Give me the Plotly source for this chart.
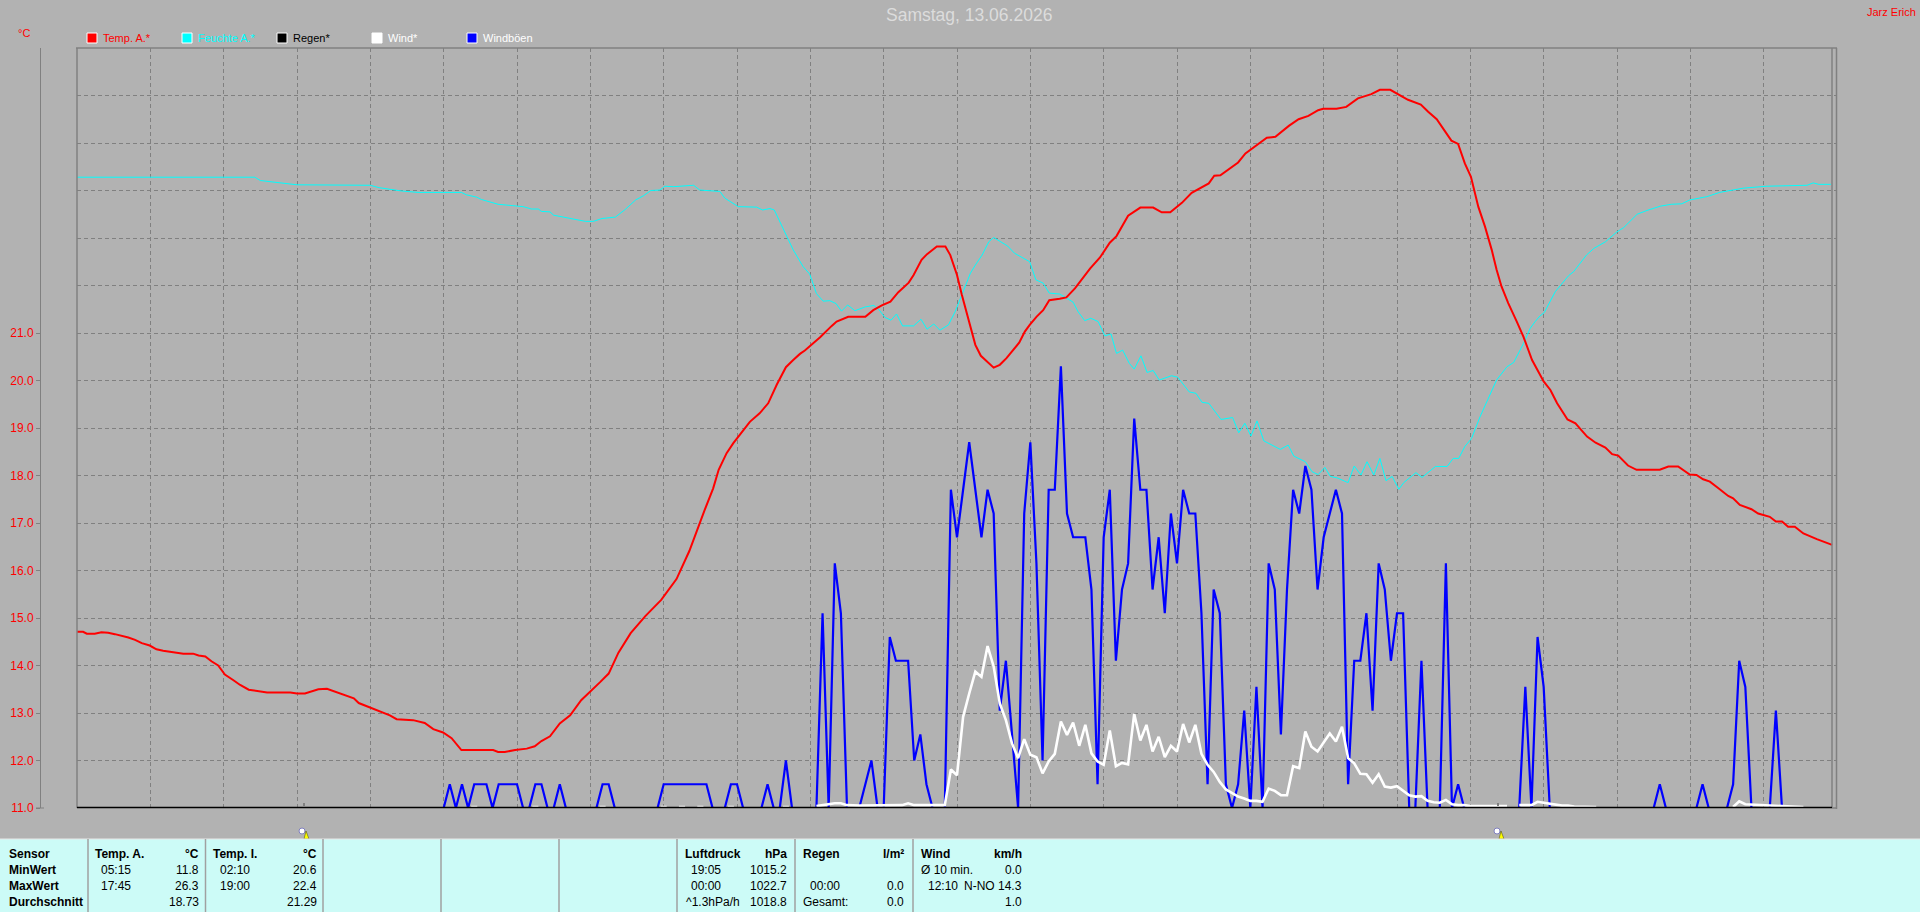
# Wetterstation Tagesgrafik, Samstag 13.06.2026
import plotly.graph_objects as go

W = 1920
H = 912

# temperatur aussen (messpunkt 0-288 = 5 min raster, wert auf der skala)
temp_x = [0.0, 1.0, 1.6, 2.9, 4.0, 5.1, 6.2, 7.3, 8.4, 9.5,
          10.6, 11.9, 13.0, 14.1, 15.8, 17.4, 19.0, 19.9, 21.0, 22.0,
          23.1, 24.2, 25.6, 26.7, 28.1, 30.0, 31.1, 34.9, 36.0, 37.3,
          38.4, 39.5, 40.9, 42.5, 43.9, 45.3, 46.1, 48.0, 49.6, 51.2,
          52.3, 55.0, 56.9, 58.3, 59.9, 61.3, 62.9, 68.1, 68.9, 70.0,
          71.7, 73.6, 74.9, 76.0, 77.4, 79.0, 80.7, 82.5, 85.6, 87.0,
          88.6, 90.6, 93.0, 95.6, 98.1, 100.2, 102.7, 104.1, 105.0, 106.3,
          107.4, 108.7, 110.1, 111.7, 113.1, 114.5, 116.0, 117.2, 118.3, 119.1,
          120.5, 121.6, 123.5, 124.3, 126.2, 129.0, 130.3, 131.7, 133.1, 134.4,
          136.1, 136.9, 138.2, 139.1, 140.7, 142.1, 142.9, 144.0, 144.8, 146.2,
          147.0, 147.9, 149.2, 150.0, 151.0, 152.1, 154.2, 155.1, 155.9, 157.0,
          158.1, 159.1, 160.8, 161.9, 163.3, 165.8, 167.4, 169.0, 170.1, 172.0,
          174.0, 176.1, 177.5, 178.9, 180.8, 182.4, 185.2, 186.1, 187.1, 190.0,
          191.2, 194.7, 196.1, 198.3, 199.9, 201.5, 203.1, 203.9, 206.1, 207.7,
          209.6, 211.8, 213.2, 214.9, 217.8, 219.9, 221.1, 222.5, 224.9, 226.0,
          227.1, 228.1, 229.3, 230.4, 231.5, 232.3, 233.1, 234.2, 235.6, 236.7,
          238.1, 240.0, 241.1, 242.2, 243.9, 245.2, 247.1, 248.5, 250.1, 251.2,
          252.2, 253.8, 255.2, 259.0, 260.4, 262.0, 263.9, 265.0, 266.1, 267.2,
          268.6, 270.2, 271.0, 272.1, 274.0, 275.1, 277.0, 278.0, 279.0, 280.0,
          281.1, 282.5, 284.7, 287.2]
temp_y = [14.71, 14.71, 14.67, 14.67, 14.70, 14.69, 14.66, 14.63, 14.59, 14.54,
          14.47, 14.42, 14.34, 14.31, 14.28, 14.25, 14.25, 14.21, 14.19, 14.09,
          14.00, 13.81, 13.69, 13.59, 13.49, 13.46, 13.43, 13.43, 13.41, 13.41,
          13.46, 13.50, 13.51, 13.44, 13.38, 13.31, 13.21, 13.11, 13.02, 12.95,
          12.87, 12.85, 12.79, 12.66, 12.59, 12.47, 12.22, 12.22, 12.18, 12.18,
          12.22, 12.25, 12.30, 12.41, 12.51, 12.78, 12.95, 13.27, 13.65, 13.83,
          14.27, 14.68, 15.04, 15.38, 15.82, 16.41, 17.27, 17.73, 18.12, 18.47,
          18.68, 18.89, 19.13, 19.31, 19.52, 19.91, 20.28, 20.43, 20.56, 20.63,
          20.78, 20.91, 21.15, 21.24, 21.34, 21.34, 21.48, 21.58, 21.66, 21.86,
          22.06, 22.22, 22.54, 22.66, 22.82, 22.82, 22.64, 22.22, 21.80, 21.13,
          20.75, 20.52, 20.36, 20.27, 20.33, 20.47, 20.80, 21.03, 21.17, 21.34,
          21.48, 21.69, 21.72, 21.75, 21.94, 22.36, 22.59, 22.90, 23.04, 23.47,
          23.64, 23.64, 23.54, 23.54, 23.74, 23.95, 24.15, 24.31, 24.32, 24.59,
          24.78, 25.11, 25.13, 25.36, 25.50, 25.57, 25.69, 25.72, 25.72, 25.76,
          25.94, 26.03, 26.12, 26.12, 25.91, 25.81, 25.66, 25.50, 25.05, 24.98,
          24.57, 24.29, 23.66, 23.24, 22.75, 22.33, 21.98, 21.63, 21.24, 20.92,
          20.43, 19.98, 19.80, 19.52, 19.18, 19.10, 18.82, 18.69, 18.59, 18.45,
          18.42, 18.21, 18.12, 18.12, 18.19, 18.19, 18.02, 18.01, 17.92, 17.87,
          17.73, 17.57, 17.52, 17.38, 17.29, 17.20, 17.13, 17.03, 17.03, 16.92,
          16.92, 16.78, 16.66, 16.54]

# feuchte aussen
feuchte_x = [0.0, 29.1, 30.0, 33.8, 36.0, 48.0, 49.4, 53.1, 55.8, 62.9,
             63.7, 65.4, 66.2, 68.9, 73.0, 74.4, 75.5, 76.0, 77.4, 78.0,
             79.1, 83.2, 84.5, 85.9, 88.1, 89.7, 91.4, 92.7, 93.9, 95.4,
             96.2, 97.6, 100.9, 101.9, 105.2, 106.0, 108.2, 111.2, 112.2, 113.4,
             114.1, 116.1, 117.2, 118.8, 119.9, 121.0, 122.1, 123.2, 124.2, 125.1,
             126.1, 127.3, 129.0, 130.4, 131.3, 132.2, 133.2, 134.1, 135.1, 136.9,
             138.1, 139.1, 140.2, 141.2, 142.6, 143.7, 144.8, 146.2, 147.0, 148.1,
             149.2, 150.0, 152.3, 153.4, 155.9, 156.9, 158.1, 159.1, 160.8, 161.9,
             163.0, 163.8, 164.9, 165.9, 167.1, 168.2, 169.2, 170.1, 171.1, 172.2,
             173.0, 174.1, 175.1, 176.1, 177.1, 179.1, 180.1, 182.0, 183.1, 184.1,
             185.2, 187.2, 189.1, 190.1, 191.1, 192.1, 193.1, 194.2, 196.9, 198.2,
             199.1, 201.0, 202.1, 203.1, 204.2, 205.1, 206.2, 208.0, 209.0, 210.1,
             211.1, 212.2, 213.2, 214.2, 215.2, 216.3, 217.1, 219.1, 220.1, 222.3,
             224.2, 225.2, 226.1, 227.1, 228.2, 229.6, 231.2, 232.3, 234.0, 235.1,
             236.7, 237.8, 238.6, 239.4, 240.1, 241.9, 244.1, 244.9, 247.0, 248.2,
             250.1, 252.0, 253.1, 255.3, 256.9, 259.1, 260.9, 262.6, 263.9, 266.7,
             268.8, 272.7, 276.5, 283.1, 284.1, 285.0, 287.0]
feuchte_y = [24.28, 24.28, 24.21, 24.16, 24.12, 24.11, 24.06, 23.99, 23.96, 23.96,
             23.91, 23.86, 23.81, 23.71, 23.66, 23.61, 23.61, 23.56, 23.55, 23.48,
             23.45, 23.35, 23.35, 23.41, 23.44, 23.60, 23.80, 23.89, 24.00, 24.01,
             24.09, 24.08, 24.11, 24.01, 23.98, 23.84, 23.66, 23.65, 23.59, 23.62,
             23.59, 23.03, 22.75, 22.40, 22.24, 21.83, 21.67, 21.68, 21.62, 21.46,
             21.59, 21.47, 21.55, 21.58, 21.48, 21.33, 21.27, 21.40, 21.15, 21.15,
             21.29, 21.08, 21.19, 21.06, 21.17, 21.45, 21.80, 22.26, 22.43, 22.64,
             22.92, 23.01, 22.83, 22.68, 22.50, 22.12, 22.05, 21.84, 21.82, 21.73,
             21.65, 21.45, 21.26, 21.31, 21.24, 20.94, 20.98, 20.57, 20.64, 20.36,
             20.24, 20.52, 20.17, 20.21, 20.01, 20.10, 20.07, 19.76, 19.73, 19.54,
             19.52, 19.18, 19.22, 18.90, 19.10, 18.83, 19.15, 18.73, 18.55, 18.64,
             18.41, 18.29, 18.08, 18.02, 18.17, 17.98, 17.95, 17.85, 18.20, 18.01,
             18.29, 18.01, 18.36, 17.89, 17.98, 17.71, 17.85, 18.06, 17.96, 18.19,
             18.19, 18.36, 18.36, 18.61, 18.78, 19.24, 19.69, 20.01, 20.29, 20.38,
             20.78, 21.10, 21.24, 21.36, 21.43, 21.87, 22.21, 22.29, 22.64, 22.78,
             22.92, 23.13, 23.22, 23.50, 23.58, 23.67, 23.71, 23.72, 23.80, 23.87,
             23.96, 24.05, 24.09, 24.11, 24.16, 24.13, 24.13]

# windboeen, ein wert pro messpunkt (12 pro stunde)
boeen = [
    11.0, 11.0, 11.0, 11.0, 11.0, 11.0, 11.0, 11.0, 11.0, 11.0, 11.0, 11.0,
    11.0, 11.0, 11.0, 11.0, 11.0, 11.0, 11.0, 11.0, 11.0, 11.0, 11.0, 11.0,
    11.0, 11.0, 11.0, 11.0, 11.0, 11.0, 11.0, 11.0, 11.0, 11.0, 11.0, 11.0,
    11.0, 11.0, 11.0, 11.0, 11.0, 11.0, 11.0, 11.0, 11.0, 11.0, 11.0, 11.0,
    11.0, 11.0, 11.0, 11.0, 11.0, 11.0, 11.0, 11.0, 11.0, 11.0, 11.0, 11.0,
    11.0, 11.5, 11.0, 11.5, 11.0, 11.5, 11.5, 11.5, 11.0, 11.5, 11.5, 11.5,
    11.5, 11.0, 11.0, 11.5, 11.5, 11.0, 11.0, 11.5, 11.0, 11.0, 11.0, 11.0,
    11.0, 11.0, 11.5, 11.5, 11.0, 11.0, 11.0, 11.0, 11.0, 11.0, 11.0, 11.0,
    11.5, 11.5, 11.5, 11.5, 11.5, 11.5, 11.5, 11.5, 11.0, 11.0, 11.0, 11.5,
    11.5, 11.0, 11.0, 11.0, 11.0, 11.5, 11.0, 11.0, 12.0, 11.0, 11.0, 11.0,
    11.0, 11.0, 15.1, 11.0, 16.15, 15.1, 11.0, 11.0, 11.0, 11.5, 12.0, 11.0,
    11.0, 14.6, 14.1, 14.1, 14.1, 12.0, 12.55, 11.5, 11.0, 11.0, 11.0, 17.7,
    16.7, 17.7, 18.7, 17.7, 16.7, 17.7, 17.2, 13.05, 14.1, 12.55, 11.0, 17.2,
    18.7, 16.15, 12.0, 17.7, 17.7, 20.3, 17.2, 16.7, 16.7, 16.7, 15.6, 11.5,
    16.7, 17.7, 14.1, 15.6, 16.15, 19.2, 17.7, 17.7, 15.6, 16.7, 15.1, 17.2,
    16.15, 17.7, 17.2, 17.2, 15.1, 11.5, 15.6, 15.1, 11.5, 11.0, 11.5, 13.05,
    11.0, 13.55, 11.0, 16.15, 15.6, 12.55, 15.6, 17.7, 17.2, 18.2, 17.7, 15.6,
    16.7, 17.2, 17.7, 17.2, 11.5, 14.1, 14.1, 15.1, 13.05, 16.15, 15.6, 14.1,
    15.1, 15.1, 11.0, 11.0, 14.1, 11.0, 11.0, 11.0, 16.15, 11.0, 11.5, 11.0,
    11.0, 11.0, 11.0, 11.0, 11.0, 11.0, 11.0, 11.0, 11.0, 13.55, 11.0, 14.6,
    13.55, 11.0, 11.0, 11.0, 11.0, 11.0, 11.0, 11.0, 11.0, 11.0, 11.0, 11.0,
    11.0, 11.0, 11.0, 11.0, 11.0, 11.0, 11.0, 11.5, 11.0, 11.0, 11.0, 11.0,
    11.0, 11.0, 11.5, 11.0, 11.0, 11.0, 11.0, 11.5, 14.1, 13.55, 11.0, 11.0,
    11.0, 11.0, 13.05, 11.0, 11.0, 11.0, 11.0, 11.0, 11.0, 11.0, 11.0, 11.0,
]

# wind, None = keine daten
wind_x = [64.5, 65.5, None, 74.5, 75.5, None, 85.5, 86.5, None, 95.5, 96.5, None,
          98.5, 99.5, None, 101.5, 102.5, None, 106.5, 107.5, None, 115.5, 116.5, None,
          121, 124, 125, 126, 128, 131, 132, 135, 136, 137, 142, 143,
          144, 145, 146, 147, 148, 149, 150, 151, 152, 153, 154, 155,
          156, 157, 158, 159, 160, 161, 162, 163, 164, 165, 166, 167,
          168, 169, 170, 171, 172, 173, 174, 175, 176, 177, 178, 179,
          180, 181, 182, 183, 184, 185, 186, 187, 188, 189, 190, 191,
          192, 193, 194, 195, 196, 197, 198, 199, 200, 201, 202, 203,
          204, 205, 206, 207, 208, 209, 210, 211, 212, 213, 214, 215,
          216, 217, 218, 219, 220, 221, 222, 223, 224, 225, 226, 227,
          228, 234, None, 236, 238, 239, 240, 241, 242, 243, 244, 245,
          248.6, None, 271, 272, 273, 275.5, 279, 282.5]
wind_y = [11.02, 11.02, None, 11.02, 11.02, None, 11.02, 11.02, None, 11.02, 11.02, None,
          11.02, 11.02, None, 11.02, 11.02, None, 11.02, 11.02, None, 11.02, 11.02, None,
          11.04, 11.10, 11.10, 11.06, 11.05, 11.05, 11.06, 11.06, 11.10, 11.06, 11.06, 11.81,
          11.69, 12.92, 13.41, 13.87, 13.76, 14.41, 13.98, 13.20, 12.85, 12.36, 12.05, 12.45,
          12.12, 12.07, 11.73, 11.98, 12.14, 12.82, 12.54, 12.80, 12.31, 12.75, 12.15, 11.98,
          11.91, 12.63, 11.88, 11.95, 11.92, 12.98, 12.42, 12.75, 12.19, 12.50, 12.07, 12.31,
          12.19, 12.77, 12.38, 12.75, 12.14, 11.91, 11.76, 11.55, 11.39, 11.31, 11.24, 11.20,
          11.15, 11.15, 11.13, 11.41, 11.36, 11.27, 11.27, 11.88, 11.84, 12.61, 12.29, 12.19,
          12.38, 12.57, 12.40, 12.71, 12.05, 11.94, 11.72, 11.71, 11.53, 11.71, 11.45, 11.43,
          11.46, 11.36, 11.27, 11.24, 11.25, 11.15, 11.12, 11.11, 11.17, 11.08, 11.06, 11.06,
          11.04, 11.04, None, 11.06, 11.06, 11.13, 11.11, 11.08, 11.06, 11.05, 11.05, 11.03,
          11.02, None, 11.02, 11.14, 11.08, 11.06, 11.04, 11.02]

# y achse
y_ticks = [11, 12, 13, 14, 15, 16, 17, 18, 19, 20, 21]
y_ohne_label = [22, 23, 24, 25, 26, 27]

# legende oben
legende_namen = ["Temp. A.*", "Feuchte A.*", "Regen*", "Wind*", "Windböen"]
legende_farben = ["#ff0000", "#00ffff", "#000000", "#ffffff", "#0000ff"]
legende_schrift = ["#ff0000", "#00ffff", "#000000", "#ffffff", "#ffffff"]

# tabelle unten
zeilen_namen = ["Sensor", "MinWert", "MaxWert", "Durchschnitt"]
temp_a_zeit = ["05:15", "17:45"]
temp_a_wert = ["°C", "11.8", "26.3", "18.73"]
temp_i_zeit = ["02:10", "19:00"]
temp_i_wert = ["°C", "20.6", "22.4", "21.29"]
luft_text = ["19:05", "00:00", "^1.3hPa/h"]
luft_wert = ["hPa", "1015.2", "1022.7", "1018.8"]
regen_wert = ["l/m²", "", "0.0", "0.0"]
wind_wert = ["km/h", "0.0", "N-NO 14.3", "1.0"]


def px(x):
    return x / W


def py(y):
    return 1 - y / H


def text(x, y, s, farbe="#000000", size=12, fett=False, anchor="left"):
    if fett:
        s = "<b>" + s + "</b>"
    return dict(xref="paper", yref="paper", x=px(x), y=py(y), text=s, showarrow=False,
                xanchor=anchor, yanchor="middle", borderpad=0,
                font=dict(family="Liberation Sans", size=size, color=farbe))


def linie(x0, y0, x1, y1, farbe="#808080", breite=1.5):
    return dict(type="line", xref="paper", yref="paper", x0=px(x0), y0=py(y0), x1=px(x1), y1=py(y1),
                line=dict(color=farbe, width=breite), layer="above")


fig = go.Figure()
fig.add_trace(go.Scatter(x=feuchte_x, y=feuchte_y, mode="lines", line=dict(color="#00ffff", width=1)))
fig.add_trace(go.Scatter(x=temp_x, y=temp_y, mode="lines", line=dict(color="#ff0000", width=2)))
fig.add_trace(go.Scatter(x=list(range(len(boeen))), y=boeen, mode="lines", line=dict(color="#0000ff", width=2.2)))
fig.add_trace(go.Scatter(x=wind_x, y=wind_y, mode="lines", connectgaps=False, line=dict(color="#ffffff", width=2.6)))

shapes = []
annos = []

# rahmen
shapes.append(linie(77, 48, 77, 808))
shapes.append(linie(76, 48, 1837, 48))
shapes.append(linie(1832, 48, 1832, 808))
shapes.append(linie(1836.5, 48, 1836.5, 809))
shapes.append(linie(1832, 808, 1837, 808))
shapes.append(linie(77, 807.6, 1832, 807.6, "#000000", 1.5))
# tick rechts neben der 11.0
shapes.append(linie(36, 808, 44, 808, "#808080", 1))

# kleine marken auf der zeitachse
for xm in [304, 1498]:
    shapes.append(linie(xm, 803, xm, 806, "#808080", 2))

# sonnenaufgang / untergang symbole
for xs, ys in [(302, 831), (1497, 831)]:
    shapes.append(dict(type="circle", xref="paper", yref="paper", x0=px(xs - 3), x1=px(xs + 3),
                       y0=py(ys + 3), y1=py(ys - 3), fillcolor="#ffffff",
                       line=dict(color="#8080c0", width=1), layer="above"))
    shapes.append(dict(type="path", xref="paper", yref="paper",
                       path=f"M {px(xs+2)} {py(ys+8)} L {px(xs+4)} {py(ys)} L {px(xs+7)} {py(ys+8)} Z",
                       fillcolor="#ffff00", line=dict(color="#404000", width=0.5), layer="above"))

# legende
for i in range(5):
    lx = 87 + i * 95
    shapes.append(dict(type="rect", xref="paper", yref="paper", x0=px(lx), x1=px(lx + 10),
                       y0=py(43), y1=py(33), fillcolor=legende_farben[i],
                       line=dict(color="#ffffff", width=1), layer="above"))
    annos.append(text(lx + 15, 38, legende_namen[i], legende_schrift[i], 11))

annos.append(text(969, 15, "Samstag, 13.06.2026", "#dcdcdc", 17.5, anchor="center"))
annos.append(text(1917, 12, "Jarz Erich", "#ff0000", 11, anchor="right"))
annos.append(text(24, 33, "°C", "#ff0000", 11, anchor="center"))

# tabelle
shapes.append(dict(type="rect", xref="paper", yref="paper", x0=0, x1=1, y0=py(912), y1=py(839),
                   fillcolor="#ccfbf7", line=dict(width=0), layer="above"))
shapes.append(linie(0, 839, 1920, 839, "#e8e8e8", 1))
for xt in [88, 205.5, 323, 441, 559, 677, 795, 913]:
    shapes.append(linie(xt, 839, xt, 912, "#a0a0a0", 1.5))

zeilen_y = [854, 870, 886, 902]
for i, s in enumerate(zeilen_namen):
    annos.append(text(8, zeilen_y[i], s, fett=True))

annos.append(text(94, zeilen_y[0], "Temp. A.", fett=True))
annos.append(text(212, zeilen_y[0], "Temp. I.", fett=True))
annos.append(text(684, zeilen_y[0], "Luftdruck", fett=True))
annos.append(text(802, zeilen_y[0], "Regen", fett=True))
annos.append(text(920, zeilen_y[0], "Wind", fett=True))

for i in range(4):
    annos.append(text(199.5, zeilen_y[i], temp_a_wert[i], fett=i == 0, anchor="right"))
    annos.append(text(317.5, zeilen_y[i], temp_i_wert[i], fett=i == 0, anchor="right"))
    annos.append(text(788, zeilen_y[i], luft_wert[i], fett=i == 0, anchor="right"))
    annos.append(text(905, zeilen_y[i], regen_wert[i], fett=i == 0, anchor="right"))
    annos.append(text(1023, zeilen_y[i], wind_wert[i], fett=i == 0, anchor="right"))
for i in range(2):
    annos.append(text(100, zeilen_y[i + 1], temp_a_zeit[i]))
    annos.append(text(219, zeilen_y[i + 1], temp_i_zeit[i]))
annos.append(text(690, zeilen_y[1], luft_text[0]))
annos.append(text(690, zeilen_y[2], luft_text[1]))
annos.append(text(685, zeilen_y[3], luft_text[2]))
annos.append(text(809, zeilen_y[2], "00:00"))
annos.append(text(802, zeilen_y[3], "Gesamt:"))
annos.append(text(920, zeilen_y[1], "Ø 10 min."))
annos.append(text(926.5, zeilen_y[2], "12:10"))

fig.update_layout(
    width=W, height=H,
    margin=dict(l=0, r=0, t=0, b=0, pad=0, autoexpand=False),
    paper_bgcolor="#b2b2b2",
    plot_bgcolor="#b2b2b2",
    showlegend=False,
    hovermode=False,
    shapes=shapes,
    annotations=annos,
)
fig.update_xaxes(
    domain=[px(77), px(1837)], range=[0, 288], automargin=False,
    tick0=0, dtick=12, showticklabels=False, ticks="", zeroline=False, showline=False,
    showgrid=True, gridcolor="#808080", gridwidth=1, griddash="4px,3px",
)
fig.update_yaxes(
    domain=[py(808), py(48)], range=[11, 27], automargin=False,
    anchor="free", position=px(40),
    tickmode="array", tickvals=y_ticks, ticktext=[f"{v:.1f}" for v in y_ticks],
    tickfont=dict(family="Liberation Sans", size=12, color="#ff0000"),
    ticks="outside", ticklen=4, tickcolor="#808080", tickwidth=1,
    showline=True, linecolor="#808080", linewidth=1, zeroline=False,
    showgrid=True, gridcolor="#808080", gridwidth=1, griddash="4px,3px",
    minor=dict(tickmode="array", tickvals=y_ohne_label, showgrid=True, ticks="",
               gridcolor="#808080", gridwidth=1, griddash="4px,3px"),
)

fig.write_html("out.html", config={"displayModeBar": False},
               post_script="document.body.style.margin='0';document.body.style.overflow='hidden';")
